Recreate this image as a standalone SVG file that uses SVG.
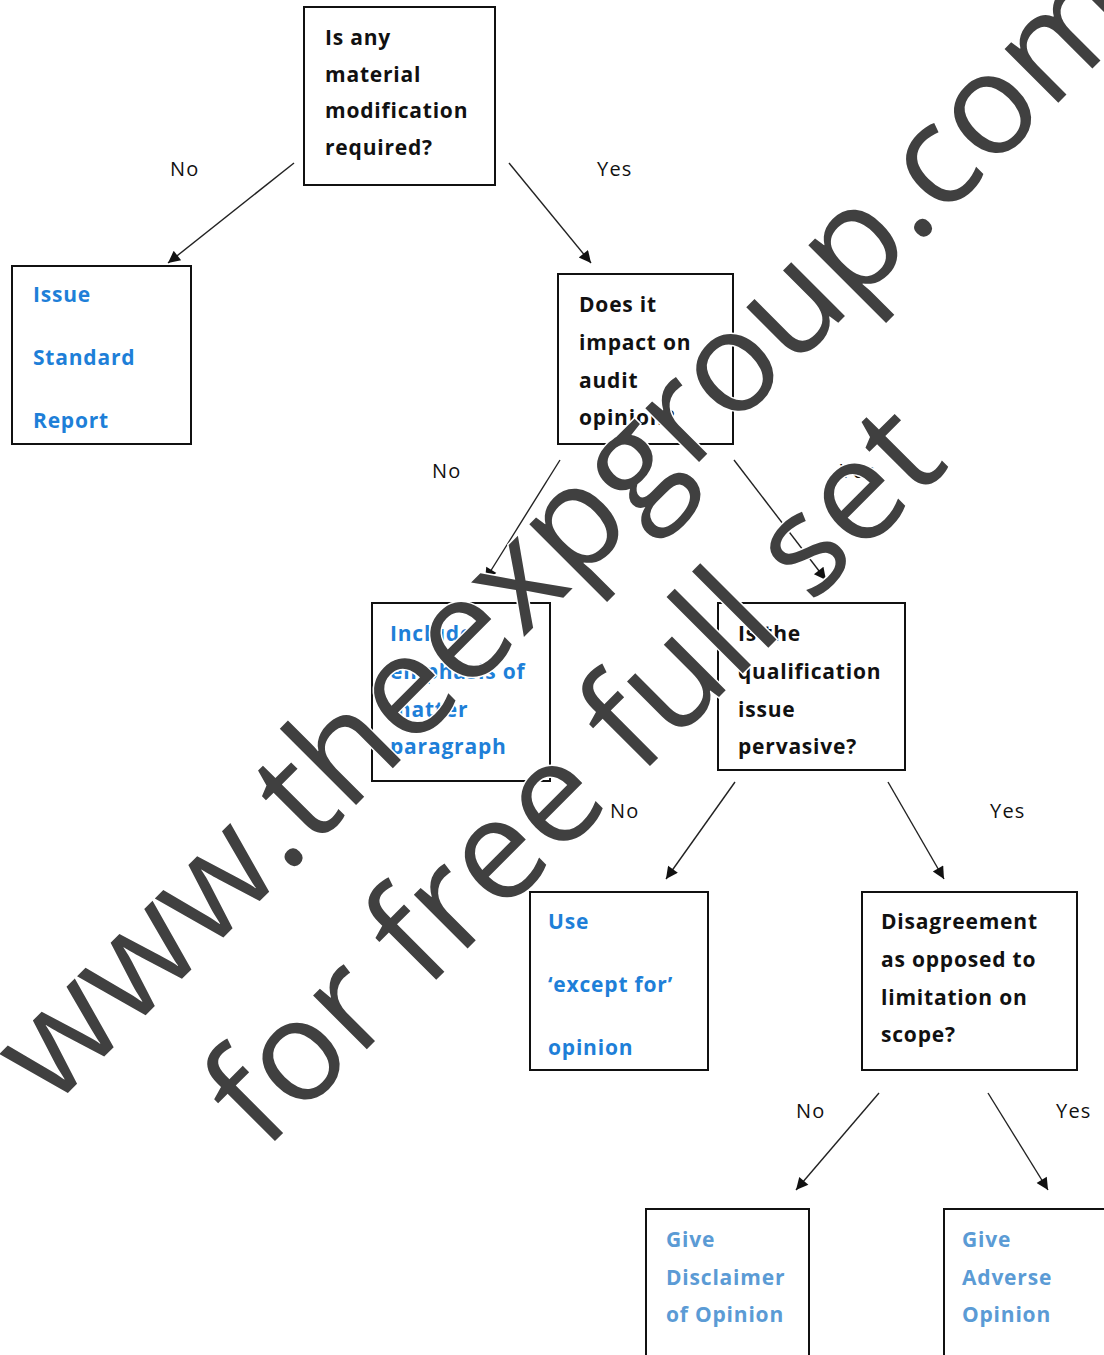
<svg xmlns="http://www.w3.org/2000/svg" width="1104" height="1355" viewBox="0 0 1104 1355">
<style>
.box{fill:#fff;stroke:#111;stroke-width:2}
.q{font-family:"Open Sans","Liberation Sans",sans-serif;font-weight:700;font-size:21px;letter-spacing:0.8px;fill:#111}
.b{font-family:"Open Sans","Liberation Sans",sans-serif;font-weight:700;font-size:21px;letter-spacing:0.8px;fill:#1e7fd8}
.lb{font-family:"Open Sans","Liberation Sans",sans-serif;font-weight:700;font-size:21px;letter-spacing:0.8px;fill:#5b9bd5}
.lab{font-family:"Open Sans","Liberation Sans",sans-serif;font-size:20px;letter-spacing:1.2px;fill:#111}
.conn line{stroke:#222;stroke-width:1.4;marker-end:url(#ah)}
.wm{font-family:"Open Sans","Liberation Sans",sans-serif;font-size:142px;fill:#404040;stroke:#fff;stroke-width:3;paint-order:stroke}
</style>
<defs>
<marker id="ah" viewBox="0 0 10 10" refX="10" refY="5" markerWidth="16" markerHeight="12" markerUnits="userSpaceOnUse" orient="auto">
<path d="M0,0 L10,5 L0,10 z" fill="#111"/>
</marker>
</defs>
<rect width="1104" height="1355" fill="#fff"/>
<g id="connectors" class="conn">
<line x1="294" y1="163" x2="168" y2="263"/>
<line x1="509" y1="163" x2="591" y2="263"/>
<line x1="560" y1="460" x2="485" y2="580"/>
<line x1="734" y1="460" x2="826" y2="580"/>
<line x1="735" y1="782" x2="666" y2="879"/>
<line x1="888" y1="782" x2="944" y2="879"/>
<line x1="879" y1="1093" x2="796" y2="1190"/>
<line x1="988" y1="1093" x2="1048" y2="1190"/>
</g>
<g id="labels">
<text class="lab" x="170" y="176">No</text>
<text class="lab" x="597" y="176">Yes</text>
<text class="lab" x="432" y="478">No</text>
<text class="lab" x="840" y="478">Yes</text>
<text class="lab" x="610" y="818">No</text>
<text class="lab" x="990" y="818">Yes</text>
<text class="lab" x="796" y="1118">No</text>
<text class="lab" x="1056" y="1118">Yes</text>
</g>
<g id="n1">
<rect class="box" x="304" y="7" width="191" height="178"/>
<text class="q" x="325" y="45">Is any</text>
<text class="q" x="325" y="82">material</text>
<text class="q" x="325" y="118">modification</text>
<text class="q" x="325" y="155">required?</text>
</g>
<g id="n2">
<rect class="box" x="12" y="266" width="179" height="178"/>
<text class="b" x="33" y="302">Issue</text>
<text class="b" x="33" y="365">Standard</text>
<text class="b" x="33" y="428">Report</text>
</g>
<g id="n3">
<rect class="box" x="558" y="274" width="175" height="170"/>
<text class="q" x="579" y="312">Does it</text>
<text class="q" x="579" y="350">impact on</text>
<text class="q" x="579" y="388">audit</text>
<text class="q" x="579" y="425">opinion?</text>
</g>
<g id="n4">
<rect class="box" x="372" y="603" width="178" height="178"/>
<text class="b" x="390" y="641">Include</text>
<text class="b" x="390" y="679">emphasis of</text>
<text class="b" x="390" y="717">matter</text>
<text class="b" x="390" y="754">paragraph</text>
</g>
<g id="n5">
<rect class="box" x="718" y="603" width="187" height="167"/>
<text class="q" x="738" y="641">Is the</text>
<text class="q" x="738" y="679">qualification</text>
<text class="q" x="738" y="717">issue</text>
<text class="q" x="738" y="754">pervasive?</text>
</g>
<g id="n6">
<rect class="box" x="530" y="892" width="178" height="178"/>
<text class="b" x="548" y="929">Use</text>
<text class="b" x="548" y="992">‘except for’</text>
<text class="b" x="548" y="1055">opinion</text>
</g>
<g id="n7">
<rect class="box" x="862" y="892" width="215" height="178"/>
<text class="q" x="881" y="929">Disagreement</text>
<text class="q" x="881" y="967">as opposed to</text>
<text class="q" x="881" y="1005">limitation on</text>
<text class="q" x="881" y="1042">scope?</text>
</g>
<g id="n8">
<rect class="box" x="646" y="1209" width="163" height="160"/>
<text class="lb" x="666" y="1247">Give</text>
<text class="lb" x="666" y="1285">Disclaimer</text>
<text class="lb" x="666" y="1322">of Opinion</text>
</g>
<g id="n9">
<rect class="box" x="944" y="1209" width="180" height="160"/>
<text class="lb" x="962" y="1247">Give</text>
<text class="lb" x="962" y="1285">Adverse</text>
<text class="lb" x="962" y="1322">Opinion</text>
</g>
<g id="watermark">
<text class="wm" transform="translate(52,1109) rotate(-45)">www.theexpgroup.com</text>
<text class="wm" transform="translate(264,1152) rotate(-45)">for free full set</text>
</g>
</svg>
